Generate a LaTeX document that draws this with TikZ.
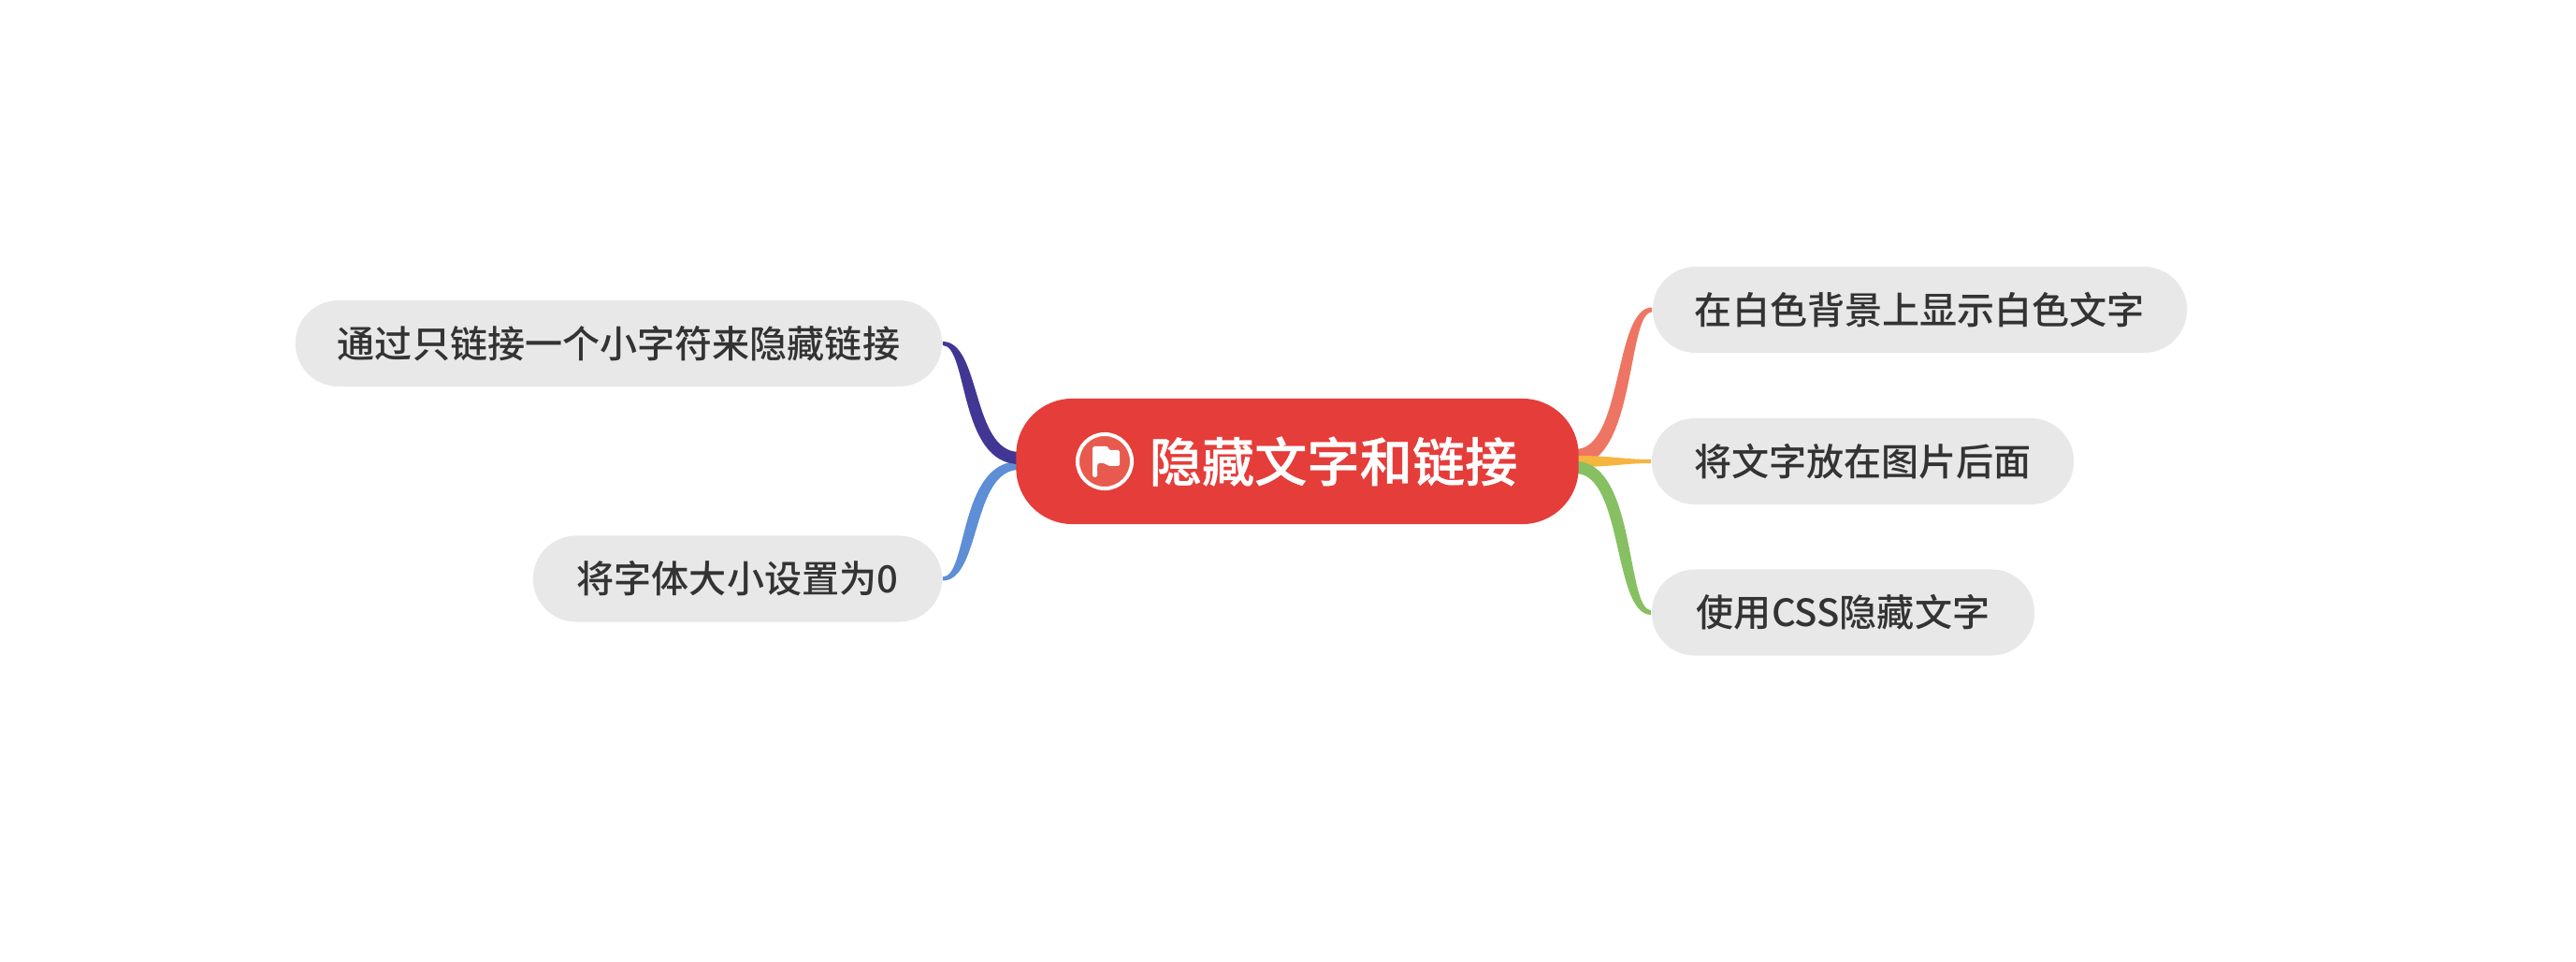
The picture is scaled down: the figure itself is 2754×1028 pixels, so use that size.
\documentclass[tikz,border=0pt]{standalone}
\usepackage{fontspec}
\setmainfont{Noto Sans CJK SC Medium}
\newfontfamily\rootfont[FakeBold=0.6]{Noto Sans CJK SC Medium}
\usetikzlibrary{calc,backgrounds}
\definecolor{rootred}{HTML}{E53D3A}
\definecolor{flagred}{HTML}{E85A4E}
\definecolor{leafgray}{HTML}{E8E8E8}
\definecolor{leaftext}{HTML}{333333}
\definecolor{linesalmon}{HTML}{EE7563}
\definecolor{lineorange}{HTML}{F5B53F}
\definecolor{linegreen}{HTML}{86C062}
\definecolor{linenavy}{HTML}{423694}
\definecolor{lineblue}{HTML}{5E8ED6}

\begin{document}
\begin{tikzpicture}[x=0.01cm,y=-0.01cm,
	root node/.style={fill=rootred,rounded corners=0.6cm,minimum height=1.34cm,text=white,font=\fontsize{16}{18}\rootfont,inner sep=0pt},
	leaf node/.style={fill=leafgray,rounded corners=0.46cm,minimum height=0.92cm,text=leaftext,font=\fontsize{11.4}{14}\selectfont,inner sep=0pt}]
	\useasboundingbox (0,0) rectangle (2754,1028);
	\draw
		(1387,493) node(root) [root node,minimum width=6.01cm] {\hspace{0.77cm}\raisebox{0.015cm}{隐藏文字和链接}}
		(2052.5,331) node(white) [leaf node,minimum width=5.71cm] {在白色背景上显示白色文字}
		(1991.5,493) node(behind) [leaf node,minimum width=4.51cm] {将文字放在图片后面}
		(1970.5,654.5) node(css) [leaf node,minimum width=4.09cm] {使用CSS隐藏文字}
		(661.5,367) node(link) [leaf node,minimum width=6.91cm] {通过只链接一个小字符来隐藏链接}
		(788.5,618.5) node(zero) [leaf node,minimum width=4.37cm] {将字体大小设置为0};
	\node(flag) [circle,draw=white,line width=0.04cm,fill=flagred,minimum size=0.58cm,inner sep=0pt] at (1181,493) {};
	\fill[white,rounded corners=0.5pt] (1168,477) -- (1185,477) -- (1185,481) -- (1197,481) -- (1197,498) -- (1185,498) -- (1181,495) -- (1173,495) -- (1173,510) -- (1168,510) -- cycle;
	\begin{scope}[on background layer]
	\fill[linesalmon] ($(root.east)+(-4,-13)$) .. controls +(51,0) and +(-41,0) .. ($(white.west)+(0,-2.5)$) -- ($(white.west)+(0,2.5)$) .. controls +(-27,0) and +(65,0) .. ($(root.east)+(-4,4)$) -- cycle;
	\fill[lineorange] ($(root.east)+(-4,-6)$) .. controls +(40,0) and +(-30,0) .. ($(behind.west)+(0,-2)$) -- ($(behind.west)+(0,2)$) .. controls +(-30,0) and +(40,0) .. ($(root.east)+(-4,6)$) -- cycle;
	\fill[linegreen] ($(root.east)+(-4,0)$) .. controls +(65,0) and +(-27,0) .. ($(css.west)+(0,-2.5)$) -- ($(css.west)+(0,2.5)$) .. controls +(-41,0) and +(51,0) .. ($(root.east)+(-4,13)$) -- cycle;
	\fill[lineblue] ($(root.west)+(4,0)$) .. controls +(-65,0) and +(27,0) .. ($(zero.east)+(0,-2)$) -- ($(zero.east)+(0,2)$) .. controls +(41,0) and +(-51,0) .. ($(root.west)+(4,9)$) -- cycle;
	\fill[linenavy] ($(root.west)+(4,-10)$) .. controls +(-51,0) and +(41,0) .. ($(link.east)+(0,-2)$) -- ($(link.east)+(0,2)$) .. controls +(27,0) and +(-65,0) .. ($(root.west)+(4,3)$) -- cycle;
	\end{scope}
\end{tikzpicture}
\end{document}
